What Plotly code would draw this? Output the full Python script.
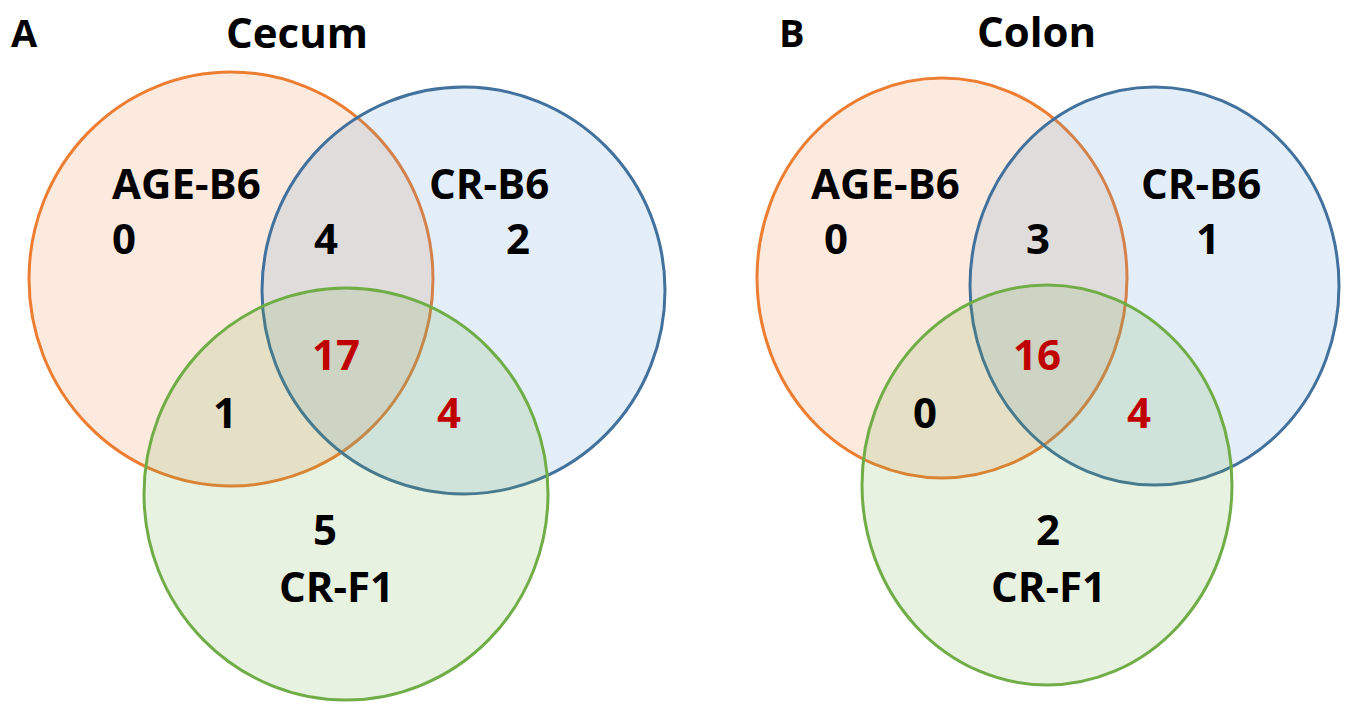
import plotly.graph_objects as go

# ---- data ----
panels = ["Cecum", "Colon"]
panel_letters = ["A", "B"]
set_names = ["AGE-B6", "CR-B6", "CR-F1"]
# region order: AGE only, AGE&CRB6, CRB6 only, all three, AGE&CRF1, CRB6&CRF1, CRF1 only
region_keys = ["A", "AB", "B", "ABC", "AC", "BC", "C"]
cecum_counts = [0, 4, 2, 17, 1, 4, 5]
colon_counts = [0, 3, 1, 16, 0, 4, 2]
highlight_regions = ["ABC", "BC"]

# ---- layout / styles ----
W, H = 1345, 704
FONT = "Open Sans"
FS = 42
RED = "#C00000"
line_cols = ["#ED7D31", "#41719C", "#70AD47"]
fill_cols = ["rgba(237,125,49,0.16)", "rgba(91,155,213,0.17)", "rgba(112,173,71,0.16)"]

# ellipse geometry per panel: (cx, cy, rx, ry) for AGE, CRB6, CRF1
geom = {
    "Cecum": [(231, 279, 202, 207), (463.5, 290.5, 201.5, 203.5), (346, 494, 202, 206)],
    "Colon": [(942, 278, 185, 200), (1154.5, 286, 184.5, 199), (1047, 485, 185, 200)],
}
title_pos = {"Cecum": (297, 31), "Colon": (1036, 30)}
letter_pos = {"Cecum": (24, 32), "Colon": (792, 32)}
name_pos = {
    "Cecum": [(186, 182), (489, 182), (336, 585)],
    "Colon": [(885, 182), (1201, 182), (1048, 585)],
}
count_pos = {
    "Cecum": {"A": (124, 237), "AB": (326, 237), "B": (518, 237), "ABC": (336, 353),
              "AC": (225, 411), "BC": (449, 411), "C": (325, 528)},
    "Colon": {"A": (836, 237), "AB": (1038, 237), "B": (1208, 237), "ABC": (1037, 353),
              "AC": (925, 411), "BC": (1139, 411), "C": (1048, 528)},
}
counts = {"Cecum": cecum_counts, "Colon": colon_counts}

fig = go.Figure()
shapes = []
annotations = []

def txt(x, y, s, color="black", size=FS):
    annotations.append(dict(x=x, y=y, xref="x", yref="y", text="<b>%s</b>" % s,
                            showarrow=False, xanchor="center", yanchor="middle",
                            borderpad=0,
                            font=dict(family=FONT, size=size, color=color)))

for p, letter in zip(panels, panel_letters):
    for (cx, cy, rx, ry), lc, fc in zip(geom[p], line_cols, fill_cols):
        shapes.append(dict(type="circle", xref="x", yref="y",
                           x0=cx - rx, x1=cx + rx, y0=cy - ry, y1=cy + ry,
                           fillcolor=fc, line=dict(color=lc, width=3), layer="above"))
    txt(*title_pos[p], p)
    txt(*letter_pos[p], letter, size=38)
    for name, pos in zip(set_names, name_pos[p]):
        txt(*pos, name)
    for key, val in zip(region_keys, counts[p]):
        col = RED if key in highlight_regions else "black"
        txt(*count_pos[p][key], str(val), color=col)

fig.update_layout(
    width=W, height=H,
    margin=dict(l=0, r=0, t=0, b=0),
    paper_bgcolor="white", plot_bgcolor="white",
    xaxis=dict(range=[0, W], visible=False, fixedrange=True),
    yaxis=dict(range=[H, 0], visible=False, fixedrange=True),
    shapes=shapes, annotations=annotations, showlegend=False,
)
fig.write_html("out.html", config={"displayModeBar": False},
               post_script="document.body.style.margin='0';document.body.style.overflow='hidden';")
